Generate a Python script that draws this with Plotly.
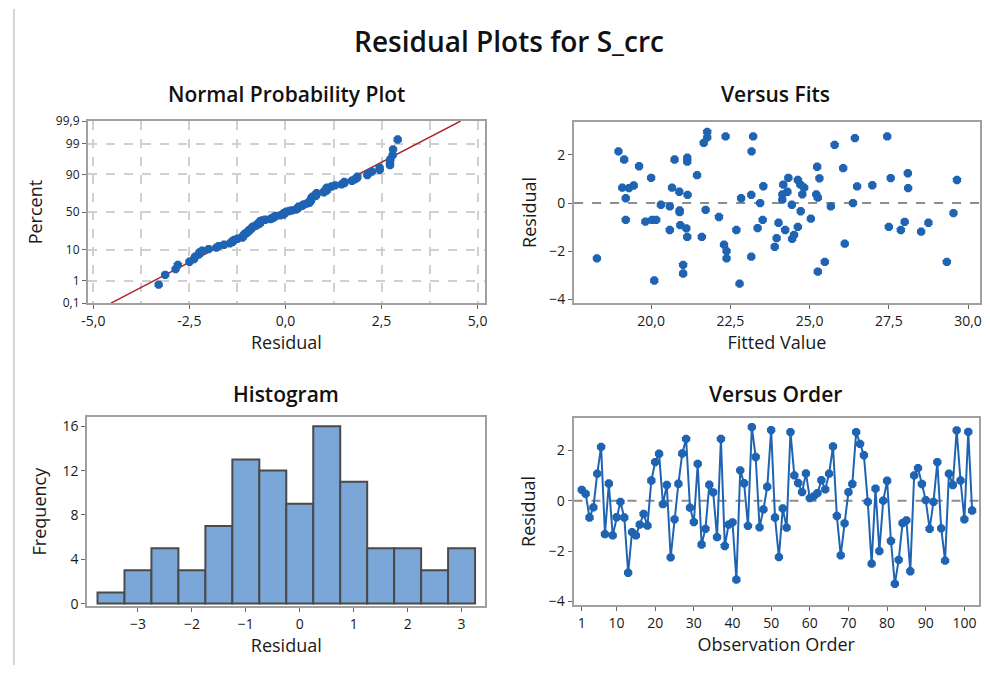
import plotly.graph_objects as go
from statistics import NormalDist, mean, stdev

# ---------------- data ----------------
order_resid = [0.43, 0.27, -0.67, -0.27, 1.07, 2.13, -1.33, 0.68, -1.38, -0.66,
               -0.05, -0.67, -2.86, -1.25, -1.38, -0.95, -0.53, -0.99, 0.80, 1.53,
               1.86, -0.14, 0.62, -2.25, -0.74, 0.67, 1.87, 2.45, -0.28, -0.85,
               1.46, -1.74, -1.12, 0.63, 0.33, -1.45, 2.45, -1.80, -0.95, -0.86,
               -3.13, 1.20, 0.69, -1.00, 2.92, 1.73, -1.06, -0.35, 0.55, 2.80,
               -0.67, -2.24, -0.31, -1.07, 2.72, 1.00, 0.70, 0.34, 1.08, 0.10,
               0.17, 0.30, 0.81, 0.45, 1.07, 2.15, -0.61, -2.17, -0.90, 0.34,
               0.66, 2.72, 2.25, 1.80, -0.05, -2.50, 0.48, -2.00, 0.00, 0.79,
               -1.60, -3.30, -2.35, -0.89, -0.78, -2.80, 1.00, 1.29, 0.66, 0.02,
               -1.12, -0.05, 1.53, -1.10, -2.38, 1.07, 0.62, 2.79, 0.80, -0.74,
               2.73, -0.39]
order_index = list(range(1, len(order_resid) + 1))

fits_fitted = [18.29, 18.97, 19.15, 19.09, 19.30, 19.45, 19.20, 19.20, 19.62, 19.82,
               20.00, 20.03, 20.16, 20.10, 20.31, 20.59, 20.59, 20.66, 20.74, 20.89,
               20.90, 20.90, 20.92, 21.01, 21.01, 21.11, 21.14, 21.14, 21.14, 21.15,
               21.45, 21.60, 21.66, 21.72, 21.77, 21.77, 22.14, 22.30, 22.35, 22.38,
               22.38, 22.69, 22.79, 22.84, 23.16, 23.17, 23.22, 23.16, 23.36, 23.44,
               23.52, 23.54, 23.90, 23.96, 24.02, 24.14, 24.14, 24.17, 24.23, 24.30,
               24.33, 24.44, 24.45, 24.51, 24.63, 24.63, 24.71, 24.83, 24.72, 24.77,
               25.04, 25.21, 25.26, 25.24, 25.31, 25.26, 25.48, 25.67, 25.79, 26.06,
               26.11, 26.37, 26.43, 26.50, 26.98, 27.45, 27.50, 27.56, 27.88, 28.00,
               28.10, 28.11, 28.52, 28.75, 29.33, 29.54, 29.65]
fits_resid = [-2.30, 2.15, 1.81, 0.64, 0.62, 0.73, 0.20, -0.70, 1.53, -0.77,
              1.05, -0.70, -0.70, -3.22, -0.07, -0.14, -1.12, 0.64, 1.81, 0.47,
              -0.31, -0.38, -0.92, -2.57, -2.93, -1.05, -1.41, 1.89, 1.72, 0.34,
              1.16, -1.41, 2.50, -0.28, 2.96, 2.73, -0.58, -1.73, 2.77, -2.00,
              -2.30, -1.12, -3.35, 0.20, 0.34, 2.15, 2.77, -2.23, -1.04, 0.00,
              -0.70, 0.70, -1.82, -1.46, -0.82, 0.14, 0.36, 0.77, -1.12, 0.47,
              1.05, -0.07, -1.49, -1.32, -0.99, 0.96, 0.77, 0.64, -0.34, 0.36,
              -0.65, 0.36, 0.23, 1.51, 1.03, -2.85, -2.45, -0.14, 2.42, 1.45,
              -1.69, 0.00, 2.70, 0.69, 0.74, 2.77, -0.99, 1.04, -1.12, -0.78,
              1.24, 0.62, -1.19, -0.82, -2.45, -0.42, 0.96]

hist_centers = [-3.5, -3.0, -2.5, -2.0, -1.5, -1.0, -0.5, 0.0, 0.5, 1.0, 1.5, 2.0, 2.5, 3.0]
hist_counts = [1, 3, 5, 3, 7, 13, 12, 9, 16, 11, 5, 5, 3, 5]

prob_tick_pct = [0.1, 1, 10, 50, 90, 99, 99.9]
prob_tick_text = ["0,1", "1", "10", "50", "90", "99", "99,9"]
prob_x_ticks = [-5.0, -2.5, 0.0, 2.5, 5.0]
prob_x_text = ["-5,0", "-2,5", "0,0", "2,5", "5,0"]
fits_x_ticks = [20.0, 22.5, 25.0, 27.5, 30.0]
fits_x_text = ["20,0", "22,5", "25,0", "27,5", "30,0"]
order_x_ticks = [1, 10, 20, 30, 40, 50, 60, 70, 80, 90, 100]

# ---------------- derived ----------------
nd = NormalDist()
srt = sorted(order_resid)
n = len(srt)
prob_z = [nd.inv_cdf((i + 1 - 0.3) / (n + 0.4)) for i in range(n)]
mu, sd = mean(order_resid), stdev(order_resid)
zlo, zhi = nd.inv_cdf(0.001), nd.inv_cdf(0.999)
line_z = [zlo, zhi]
line_x = [mu + sd * z for z in line_z]
prob_tick_z = [nd.inv_cdf(p / 100) for p in prob_tick_pct]

# ---------------- styling ----------------
FONT = "Open Sans"
BLUE = "#1F63B3"
FRAME = "#A0A0A0"
W, H = 990, 673


def px_x(a, b):
    return [a / W, b / W]


def px_y(top, bottom):
    return [1 - bottom / H, 1 - top / H]


fig = go.Figure()

# Normal probability plot
fig.add_trace(go.Scatter(x=line_x, y=line_z, mode="lines",
                         line=dict(color="#A8262B", width=1.5),
                         xaxis="x", yaxis="y", hoverinfo="skip"))
fig.add_trace(go.Scatter(x=srt, y=prob_z, mode="markers",
                         marker=dict(color=BLUE, size=9, symbol="octagon"),
                         xaxis="x", yaxis="y"))

# Versus fits
fig.add_trace(go.Scatter(x=fits_fitted, y=fits_resid, mode="markers",
                         marker=dict(color=BLUE, size=9, symbol="octagon"),
                         xaxis="x2", yaxis="y2"))

# Histogram
fig.add_trace(go.Bar(x=hist_centers, y=hist_counts, width=0.5,
                     marker=dict(color="#7BA7D8", line=dict(color="#4A4A4A", width=2)),
                     xaxis="x3", yaxis="y3"))

# Versus order
fig.add_trace(go.Scatter(x=order_index, y=order_resid, mode="lines+markers",
                         line=dict(color=BLUE, width=2),
                         marker=dict(color=BLUE, size=9, symbol="octagon"),
                         xaxis="x4", yaxis="y4"))

tickfont = dict(family=FONT, size=14, color="#1A1A1A")
titlefont = dict(family=FONT, size=18, color="#1A1A1A")

common = dict(showline=True, linecolor=FRAME, linewidth=2, mirror=True,
              ticks="outside", ticklen=4, tickcolor="#666666", tickwidth=1,
              tickfont=tickfont, zeroline=False, showgrid=False)

layout = dict(
    width=W, height=H,
    margin=dict(l=0, r=0, t=0, b=0),
    paper_bgcolor="white", plot_bgcolor="white",
    showlegend=False,
    font=dict(family=FONT, color="#1A1A1A"),
    title=dict(text="Residual Plots for S_crc", x=509 / W, y=1 - 42 / H,
               xanchor="center", yanchor="middle",
               font=dict(family=FONT, size=28, color="#111111", weight=600)),
    xaxis=dict(domain=px_x(81.7, 482.3), range=[-5.14, 5.19], anchor="y",
               tickvals=prob_x_ticks, ticktext=prob_x_text,
               title=dict(text="Residual", font=titlefont, standoff=4),
               **{**common, "showgrid": True},
               gridcolor="#D0D0D0", griddash="dash", gridwidth=1.5,
               minor=dict(dtick=1.25, tick0=0, showgrid=True, gridcolor="#D0D0D0",
                          griddash="dash", gridwidth=1.5)),
    yaxis=dict(domain=px_y(115, 301.7), range=[zlo, zhi], anchor="x",
               tickvals=prob_tick_z, ticktext=prob_tick_text,
               title=dict(text="Percent", font=titlefont, standoff=9),
               **{**common, "showgrid": True, "tickfont": dict(family=FONT, size=12, color="#1A1A1A")},
               gridcolor="#D0D0D0", griddash="dash", gridwidth=1.5),
    xaxis2=dict(domain=px_x(572.3, 981.7), range=[17.57, 30.37], anchor="y2",
                tickvals=fits_x_ticks, ticktext=fits_x_text,
                title=dict(text="Fitted Value", font=titlefont, standoff=4), **common),
    yaxis2=dict(domain=px_y(115.7, 301.7), range=[-4.16, 3.38], anchor="x2",
                tickvals=[-4, -2, 0, 2],
                title=dict(text="Residual", font=titlefont, standoff=8), **common),
    xaxis3=dict(domain=px_x(81, 482.7), range=[-3.94, 3.44], anchor="y3",
                tickvals=[-3, -2, -1, 0, 1, 2, 3],
                title=dict(text="Residual", font=titlefont, standoff=7), **common),
    yaxis3=dict(domain=px_y(419, 612.3), range=[-0.2, 16.8], anchor="x3",
                tickvals=[0, 4, 8, 12, 16],
                title=dict(text="Frequency", font=titlefont, standoff=11), **common),
    xaxis4=dict(domain=px_x(571.7, 981), range=[-1.14, 103.8], anchor="y4",
                tickvals=order_x_ticks,
                title=dict(text="Observation Order", font=titlefont, standoff=7), **common),
    yaxis4=dict(domain=px_y(419.3, 611.7), range=[-4.15, 3.29], anchor="x4",
                tickvals=[-4, -2, 0, 2],
                title=dict(text="Residual", font=titlefont, standoff=8), **common),
    shapes=[
        dict(type="line", xref="x2 domain", yref="y2", x0=0, x1=1, y0=0, y1=0,
             line=dict(color="#8C8C8C", width=2, dash="dash"), layer="below"),
        dict(type="line", xref="x4 domain", yref="y4", x0=0, x1=1, y0=0, y1=0,
             line=dict(color="#8C8C8C", width=2, dash="dash"), layer="below"),
        dict(type="line", xref="paper", yref="paper", x0=7 / W, x1=7 / W, y0=0, y1=1,
             line=dict(color="#C8C8C8", width=1.5)),
    ],
    annotations=[
        dict(text=t, x=cx / W, y=1 - cy / H, xref="paper", yref="paper",
             xanchor="center", yanchor="middle", showarrow=False,
             font=dict(family=FONT, size=21, color="#111111", weight=600))
        for t, cx, cy in [("Normal Probability Plot", 282, 87), ("Versus Fits", 776, 87),
                          ("Histogram", 282, 395), ("Versus Order", 776, 395)]
    ],
)
fig.update_layout(**layout)
fig.write_html("out.html", config={"displayModeBar": False},
               post_script="document.body.style.margin='0';document.body.style.overflow='hidden';")
